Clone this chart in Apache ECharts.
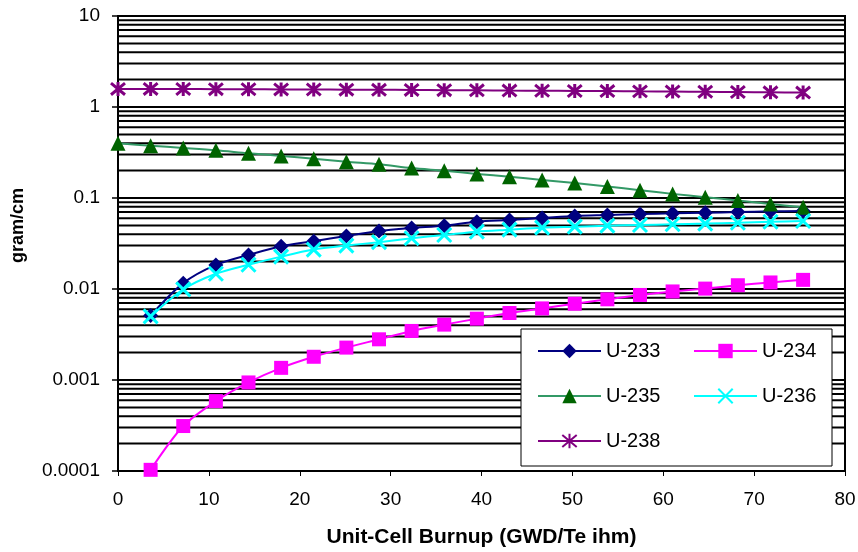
<!DOCTYPE html>
<html>
<head>
<meta charset="utf-8">
<script src="https://cdn.jsdelivr.net/npm/echarts@6/dist/echarts.min.js"></script>
<style>
  html, body { margin: 0; padding: 0; background: #fff; }
  #chart { width: 858px; height: 552px; }
</style>
</head>
<body>
<div id="chart"></div>
<script>
// burnup steps (GWD/Te ihm)
var burnup = [0, 3.59, 7.18, 10.77, 14.36, 17.95, 21.54, 25.13, 28.72, 32.31, 35.9,
	39.49, 43.08, 46.67, 50.26, 53.85, 57.44, 61.03, 64.62, 68.21, 71.8, 75.39];

// gram/cm, null = no point at that step
var u233 = [null, 0.0051, 0.0116, 0.0184, 0.0237, 0.0295, 0.0335, 0.0383, 0.0434, 0.0468, 0.0496,
	0.0549, 0.0573, 0.0602, 0.0634, 0.065, 0.0667, 0.0678, 0.0689, 0.0701, 0.0713, 0.0719];
var u234 = [null, 0.000103, 0.000312, 0.000586, 0.00094, 0.00136, 0.0018, 0.00227, 0.0028, 0.00346, 0.00406,
	0.00472, 0.00545, 0.00612, 0.00689, 0.0077, 0.0086, 0.0094, 0.0101, 0.011, 0.0118, 0.0126];
var u235 = [0.40, 0.375, 0.355, 0.335, 0.31, 0.29, 0.27, 0.25, 0.235, 0.213, 0.199,
	0.184, 0.171, 0.158, 0.146, 0.134, 0.122, 0.111, 0.102, 0.094, 0.086, 0.079];
var u236 = [null, 0.0050, 0.0099, 0.0147, 0.0185, 0.0227, 0.0271, 0.030, 0.0327, 0.0361, 0.0392,
	0.0427, 0.0449, 0.0472, 0.0484, 0.0497, 0.0505, 0.0514, 0.0523, 0.0535, 0.0549, 0.0558];
var u238 = [1.58, 1.58, 1.575, 1.57, 1.565, 1.56, 1.555, 1.55, 1.545, 1.54, 1.53,
	1.525, 1.515, 1.51, 1.50, 1.495, 1.485, 1.48, 1.47, 1.46, 1.45, 1.44];

var yTickLabels = ['0.0001', '0.001', '0.01', '0.1', '1', '10'];

function pairs(vals) {
	var out = [];
	for (var i = 0; i < vals.length; i++) {
		if (vals[i] != null) out.push([burnup[i], vals[i]]);
	}
	return out;
}

// horizontal lines at 1..9 of every decade
var gridLines = [];
for (var k = -4; k <= 0; k++) {
	for (var m = 1; m <= 9; m++) {
		if (k == -4 && m == 1) continue;
		gridLines.push([0, +(m * Math.pow(10, k)).toPrecision(3)]);
	}
}

var xMark = 'path://M0,0L10,10M10,0L0,10';
var starMark = 'path://M0,0L10,10M10,0L0,10M5,-1L5,11';
var font = 'Liberation Sans, Arial';

var chart = echarts.init(document.getElementById('chart'));

var legendPos = [
	{ name: 'U-233', left: 537, top: 341 },
	{ name: 'U-234', left: 693, top: 341 },
	{ name: 'U-235', left: 537, top: 386 },
	{ name: 'U-236', left: 693, top: 386 },
	{ name: 'U-238', left: 537, top: 431 }
];
var legends = legendPos.map(function(p) {
	return {
		data: [p.name],
		left: p.left,
		top: p.top,
		padding: 0,
		itemWidth: 63,
		itemHeight: 18,
		selectedMode: false,
		z: 20,
		textStyle: { fontFamily: font, fontSize: 20, color: '#000' }
	};
});

var option = {
	animation: false,
	backgroundColor: '#fff',
	grid: {
		left: 118, right: 13, top: 16, bottom: 81,
		outerBoundsMode: 'none',
		show: true, borderColor: '#000', borderWidth: 2
	},
	legend: legends,
	graphic: [{
		type: 'rect',
		z: 10,
		shape: { x: 521, y: 329, width: 311, height: 137 },
		style: { fill: '#fff', stroke: '#000', lineWidth: 1 }
	}],
	xAxis: {
		type: 'value',
		min: 0, max: 80, interval: 10,
		name: 'Unit-Cell Burnup (GWD/Te ihm)',
		nameLocation: 'middle',
		nameGap: 56,
		nameTextStyle: { fontFamily: font, fontSize: 21, fontWeight: 'bold', color: '#000' },
		axisLine: { onZero: false, lineStyle: { color: '#000', width: 2 } },
		axisTick: { length: 5, lineStyle: { color: '#000', width: 1 } },
		axisLabel: { margin: 19, fontFamily: font, fontSize: 19, color: '#000' },
		splitLine: { show: false }
	},
	yAxis: {
		type: 'log',
		logBase: 10,
		min: 0.0001, max: 10,
		name: 'gram/cm',
		nameLocation: 'middle',
		nameGap: 91,
		nameTextStyle: { fontFamily: font, fontSize: 18, fontWeight: 'bold', color: '#000', padding: [0, 0, 0, 36] },
		axisLine: { lineStyle: { color: '#000', width: 2 } },
		axisTick: { length: 6, lineStyle: { color: '#000', width: 1.5 } },
		axisLabel: {
			margin: 18,
			fontFamily: font, fontSize: 19, color: '#000',
			formatter: function(v) {
				return yTickLabels[Math.round(Math.log10(v)) + 4];
			}
		},
		splitLine: { show: false }
	},
	series: [
		{
			name: 'gridlines',
			type: 'custom',
			silent: true,
			z: 1,
			data: gridLines,
			renderItem: function(params, api) {
				var v = api.value(1);
				var a = api.coord([0, v]);
				var b = api.coord([80, v]);
				return {
					type: 'line',
					shape: { x1: a[0], y1: a[1], x2: b[0], y2: b[1] },
					style: { stroke: '#000', lineWidth: 2 }
				};
			}
		},
		{
			name: 'U-233', type: 'line', z: 3,
			data: pairs(u233), smooth: 0.3,
			symbol: 'diamond', symbolSize: 15,
			lineStyle: { color: '#000080', width: 2 },
			itemStyle: { color: '#000080' }
		},
		{
			name: 'U-234', type: 'line', z: 3,
			data: pairs(u234), smooth: 0.3,
			symbol: 'rect', symbolSize: 14,
			lineStyle: { color: '#ff00ff', width: 2 },
			itemStyle: { color: '#ff00ff' }
		},
		{
			name: 'U-235', type: 'line', z: 3,
			data: pairs(u235), smooth: 0.3,
			symbol: 'triangle', symbolSize: 15,
			lineStyle: { color: '#339966', width: 2 },
			itemStyle: { color: '#006400' }
		},
		{
			name: 'U-236', type: 'line', z: 3,
			data: pairs(u236), smooth: 0.3,
			symbol: xMark, symbolSize: 14,
			lineStyle: { color: '#00ffff', width: 2 },
			itemStyle: { color: '#00ffff', borderColor: '#00ffff', borderWidth: 3 }
		},
		{
			name: 'U-238', type: 'line', z: 3,
			data: pairs(u238), smooth: 0.3,
			symbol: starMark, symbolSize: 14,
			lineStyle: { color: '#800080', width: 2 },
			itemStyle: { color: '#800080', borderColor: '#800080', borderWidth: 3 }
		}
	]
};
chart.setOption(option);
</script>
</body>
</html>
